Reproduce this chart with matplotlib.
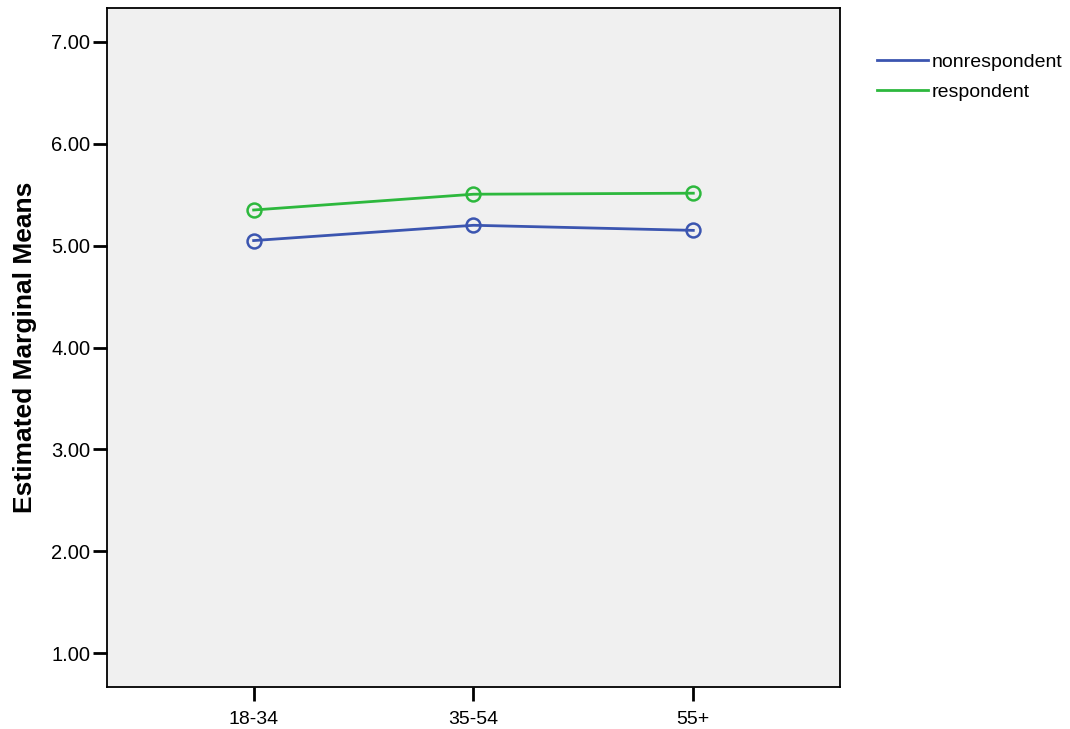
import numpy as np
import matplotlib
matplotlib.use("Agg")
import matplotlib.pyplot as plt

plt.rcParams['font.family'] = ['Liberation Sans', 'DejaVu Sans']

# grupos de idade e medias marginais estimadas
categorias = ["18-34", "35-54", "55+"]
nonrespondent = [5.05, 5.20, 5.15]
respondent = [5.35, 5.505, 5.515]
yticks = [1, 2, 3, 4, 5, 6, 7]

fig = plt.figure(figsize=(10.7, 7.29), dpi=100)
ax = fig.add_axes([0.1, 0.0576, 0.685, 0.9314])
ax.set_facecolor("#f0f0f0")

x = np.arange(len(categorias))
ax.plot(x, nonrespondent, color="#3b55b0", lw=2, marker="o", ms=10,
        mfc="none", mew=1.8, label="nonrespondent")
ax.plot(x, respondent, color="#2db83d", lw=2, marker="o", ms=10,
        mfc="none", mew=1.8, label="respondent")

ax.set_xlim(-0.667, 2.667)
ax.set_ylim(0.667, 7.333)
ax.set_xticks(x)
ax.set_xticklabels(categorias, fontsize=14)
ax.set_yticks(yticks)
ax.set_yticklabels(["%.2f" % v for v in yticks], fontsize=14.5)
ax.tick_params(axis="both", length=10, width=2, direction="out")
ax.tick_params(axis="x", pad=7.5)
ax.tick_params(axis="y", pad=2)
for s in ax.spines.values():
    s.set_linewidth(1.3)
ax.set_ylabel("Estimated Marginal Means", fontsize=19, fontweight="bold", labelpad=10)

# legenda sem moldura, fora do grafico na direita
leg = ax.legend(loc="upper left", bbox_to_anchor=(1.0405, 0.945), frameon=False,
                fontsize=14, handlelength=2.6, handletextpad=0.2, labelspacing=0.65,
                borderaxespad=0)
for h in leg.legend_handles:
    h.set_marker("")

fig.savefig("out.png", dpi=100)
